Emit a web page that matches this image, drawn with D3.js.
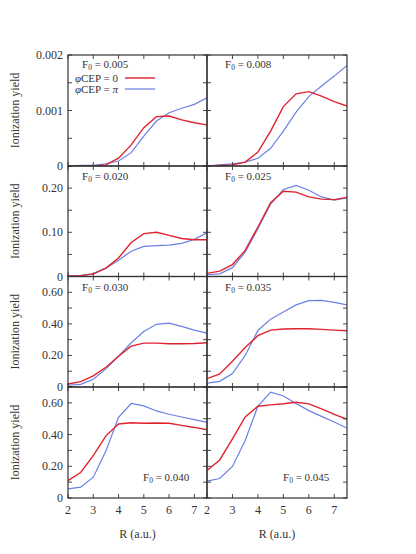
<!DOCTYPE html>
<html>
<head>
<meta charset="utf-8">
<title></title>
<script src="https://cdn.jsdelivr.net/npm/d3@7"></script>
<style>
  body { margin: 0; background: #fff; }
  svg text { font-family: "Liberation Serif", "DejaVu Serif", serif; fill: #333; }
</style>
</head>
<body>
<script>
// R grid (a.u.)
const rValues = [2, 2.5, 3, 3.5, 4, 4.5, 5, 5.5, 6, 6.5, 7, 7.5];

// field strengths, one per panel (row by row, left then right)
const fieldLabels = ["0.005", "0.008", "0.020", "0.025", "0.030", "0.035", "0.040", "0.045"];

// yield for CEP = 0 (red)
const cep0 = [
    [0, 0, 0, 0.00002, 0.00014, 0.00038, 0.00069, 0.00089, 0.0009, 0.00083, 0.00078, 0.00074],
    [0, 0.00001, 0.00002, 0.00007, 0.00025, 0.00063, 0.00107, 0.0013, 0.00134, 0.00126, 0.00116, 0.00108],
    [0.0015, 0.002, 0.006, 0.019, 0.042, 0.077, 0.097, 0.100, 0.093, 0.086, 0.083, 0.083],
    [0.007, 0.012, 0.027, 0.059, 0.112, 0.167, 0.193, 0.191, 0.180, 0.175, 0.174, 0.179],
    [0.019, 0.034, 0.070, 0.125, 0.195, 0.259, 0.278, 0.278, 0.274, 0.274, 0.276, 0.280],
    [0.053, 0.083, 0.163, 0.250, 0.325, 0.360, 0.367, 0.369, 0.369, 0.365, 0.360, 0.356],
    [0.110, 0.161, 0.267, 0.392, 0.467, 0.475, 0.471, 0.473, 0.471, 0.458, 0.445, 0.430],
    [0.174, 0.240, 0.373, 0.511, 0.579, 0.587, 0.594, 0.604, 0.594, 0.562, 0.528, 0.496]
];

// yield for CEP = pi (blue)
const cepPi = [
    [0, 0.00001, 0.00001, 0.00004, 0.00009, 0.00024, 0.00054, 0.00081, 0.00096, 0.00104, 0.00111, 0.00123],
    [0, 0.00002, 0.00004, 0.00007, 0.00014, 0.00032, 0.00063, 0.00097, 0.00125, 0.00144, 0.00162, 0.00181],
    [0.001, 0.002, 0.006, 0.019, 0.037, 0.057, 0.068, 0.070, 0.071, 0.075, 0.084, 0.099],
    [0.004, 0.006, 0.020, 0.055, 0.108, 0.164, 0.197, 0.206, 0.195, 0.180, 0.173, 0.178],
    [0.011, 0.017, 0.049, 0.115, 0.195, 0.280, 0.352, 0.397, 0.405, 0.384, 0.360, 0.341],
    [0.025, 0.036, 0.085, 0.200, 0.358, 0.430, 0.475, 0.520, 0.547, 0.549, 0.536, 0.520],
    [0.057, 0.068, 0.131, 0.297, 0.509, 0.596, 0.581, 0.549, 0.528, 0.511, 0.494, 0.477],
    [0.106, 0.123, 0.199, 0.363, 0.579, 0.668, 0.643, 0.596, 0.551, 0.515, 0.479, 0.441]
];

// y range per row, tick spacing and labelled ticks
const rowMax = [0.002, 0.25, 0.7, 0.7];
const rowMinorStep = [0.0005, 0.05, 0.1, 0.1];
const rowTickValues = [[0, 0.001, 0.002], [0, 0.1, 0.2], [0, 0.2, 0.4, 0.6], [0, 0.2, 0.4, 0.6]];
const rowTickLabels = [["0", "0.001", "0.002"], ["0", "0.10", "0.20"], ["0", "0.20", "0.40", "0.60"], ["0", "0.20", "0.40", "0.60"]];
const xTickValues = [2, 3, 4, 5, 6, 7];

const width = 416, height = 554;
const svg = d3.select("body").append("svg").attr("width", width).attr("height", height)
    .attr("font-family", "'Liberation Serif', 'DejaVu Serif', serif");

// layout
const colX = [68, 207, 347];
const rowY = [55, 166, 276.5, 387, 498];
const tickLen = 4;
const red = "#e0232e", blue = "#6b80e3";

const xScales = [0, 1].map(c => d3.scaleLinear().domain([2, 7.5]).range([colX[c], colX[c + 1]]));
const yScales = [0, 1, 2, 3].map(r => d3.scaleLinear().domain([0, rowMax[r]]).range([rowY[r + 1], rowY[r]]));

const line = (xs, ys) => d3.line().x((d, i) => xs(rValues[i])).y(d => ys(d));

// clip paths
const defs = svg.append("defs");
for (let p = 0; p < 8; p++) {
    const r = Math.floor(p / 2), c = p % 2;
    defs.append("clipPath").attr("id", "clip" + p).append("rect")
        .attr("x", colX[c]).attr("y", rowY[r])
        .attr("width", colX[c + 1] - colX[c]).attr("height", rowY[r + 1] - rowY[r]);
}

for (let p = 0; p < 8; p++) {
    const r = Math.floor(p / 2), c = p % 2;
    const xs = xScales[c], ys = yScales[r];
    const g = svg.append("g");

    // curves
    const lines = g.append("g").attr("clip-path", "url(#clip" + p + ")");
    lines.append("path").attr("d", line(xs, ys)(cepPi[p]))
        .attr("fill", "none").attr("stroke", blue).attr("stroke-width", 1.2);
    lines.append("path").attr("d", line(xs, ys)(cep0[p]))
        .attr("fill", "none").attr("stroke", red).attr("stroke-width", 1.4);

    // inward ticks on all four sides
    const minor = d3.range(0, rowMax[r] + 1e-9, rowMinorStep[r]);
    g.selectAll(".yt").data(minor).enter().append("path")
        .attr("d", d => "M" + colX[c] + "," + ys(d) + "h" + tickLen + "M" + colX[c + 1] + "," + ys(d) + "h" + (-tickLen))
        .attr("stroke", "#333").attr("stroke-width", 0.9);
    g.selectAll(".xt").data(xTickValues).enter().append("path")
        .attr("d", d => "M" + xs(d) + "," + rowY[r + 1] + "v" + (-tickLen) + "M" + xs(d) + "," + rowY[r] + "v" + tickLen)
        .attr("stroke", "#333").attr("stroke-width", 0.9);

    // frame
    g.append("rect").attr("x", colX[c]).attr("y", rowY[r])
        .attr("width", colX[c + 1] - colX[c]).attr("height", rowY[r + 1] - rowY[r])
        .attr("fill", "none").attr("stroke", "#333").attr("stroke-width", 1.2);

    // F0 label
    let fx, fy;
    if (r < 3) { fx = colX[c] + (c === 0 ? 14 : 18); fy = rowY[r] + (r === 0 ? 13 : 14); }
    else { fx = colX[c] + (c === 0 ? 75 : 76); fy = rowY[r] + 94; }
    const ft = g.append("text").attr("x", fx).attr("y", fy).attr("font-size", 11);
    ft.append("tspan").text("F");
    ft.append("tspan").attr("font-size", 7.5).attr("dy", 2).text("0");
    ft.append("tspan").attr("dy", -2).text(" = " + fieldLabels[p]);
}

// y axis labels on left column
for (let r = 0; r < 4; r++) {
    const ys = yScales[r];
    svg.append("g").selectAll("text").data(rowTickValues[r]).enter().append("text")
        .attr("x", colX[0] - 5).attr("y", d => ys(d) + 4)
        .attr("text-anchor", "end").attr("font-size", 12)
        .text((d, i) => rowTickLabels[r][i]);
    svg.append("text")
        .attr("transform", "translate(19," + (rowY[r] + rowY[r + 1]) / 2 + ") rotate(-90)")
        .attr("text-anchor", "middle").attr("font-size", 12)
        .text("Ionization yield");
}

// x axis labels bottom
for (let c = 0; c < 2; c++) {
    const xs = xScales[c];
    svg.append("g").selectAll("text").data(xTickValues).enter().append("text")
        .attr("x", d => xs(d)).attr("y", rowY[4] + 16)
        .attr("text-anchor", "middle").attr("font-size", 12)
        .text(d => d);
    svg.append("text")
        .attr("x", (colX[c] + colX[c + 1]) / 2).attr("y", rowY[4] + 40)
        .attr("text-anchor", "middle").attr("font-size", 12)
        .text("R (a.u.)");
}

// legend in first panel
const legend = [{ label: "0", color: red, w: 1.4 }, { label: "\u03c0", color: blue, w: 1.2 }];
legend.forEach((d, i) => {
    const ly = 78 + i * 11;
    const t = svg.append("text").attr("x", 118).attr("y", ly + 4)
        .attr("text-anchor", "end").attr("font-size", 11);
    t.append("tspan").attr("font-style", "italic").text("\u03c6");
    t.append("tspan").text("CEP = ");
    t.append("tspan").attr("font-style", i === 1 ? "italic" : "normal").text(d.label);
    svg.append("line").attr("x1", 125).attr("x2", 155).attr("y1", ly).attr("y2", ly)
        .attr("stroke", d.color).attr("stroke-width", d.w);
});
</script>
</body>
</html>
